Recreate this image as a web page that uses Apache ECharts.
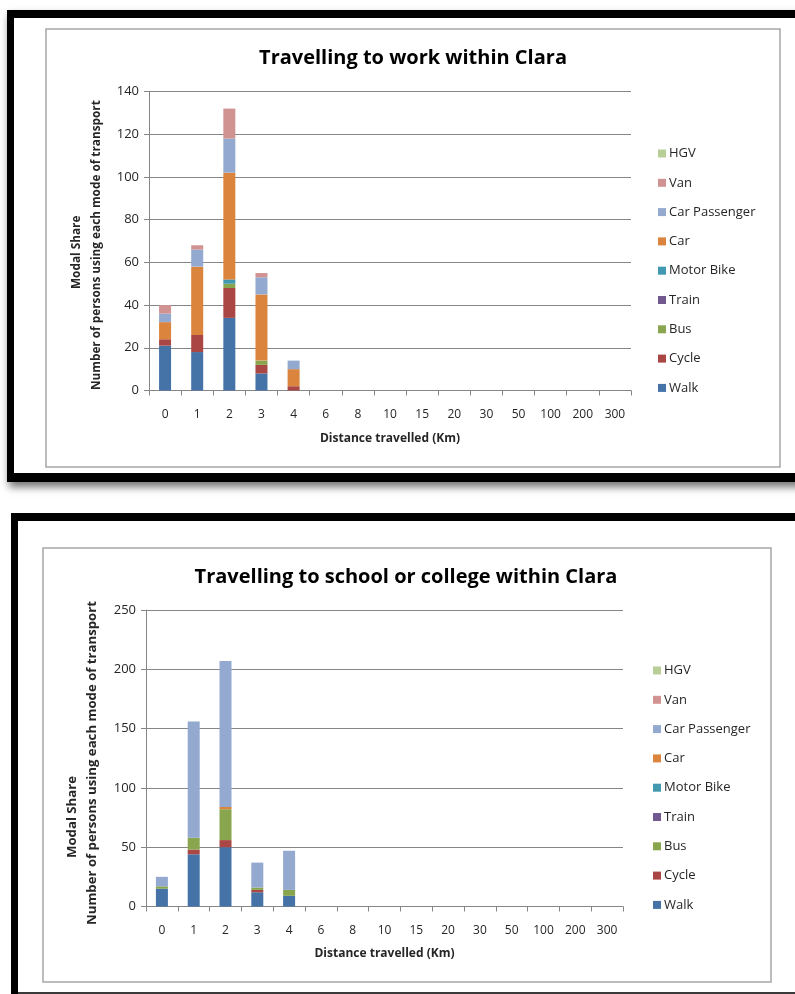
<!DOCTYPE html>
<html>
<head>
<meta charset="utf-8">
<script src="https://cdn.jsdelivr.net/npm/echarts@6/dist/echarts.min.js"></script>
<style>
  html, body { margin: 0; padding: 0; background: #fff; }
  #chart { width: 795px; height: 994px; }
</style>
</head>
<body>
<div id="chart"></div>
<script>
// Distance bands (km) shared by both charts
const distances = ['0', '1', '2', '3', '4', '6', '8', '10', '15', '20', '30', '50', '100', '200', '300'];

// Modes of transport, stacking order bottom to top
const modes = ['Walk', 'Cycle', 'Bus', 'Train', 'Motor Bike', 'Car', 'Car Passenger', 'Van', 'HGV'];
const modeColors = ['#4572A7', '#AA4643', '#89A54E', '#71588F', '#4198AF', '#DB843D', '#93A9CF', '#D19392', '#B9CD96'];

// Travelling to work within Clara (persons per distance band)
const workWalk         = [21, 18, 34, 8, 0, 0, 0, 0, 0, 0, 0, 0, 0, 0, 0];
const workCycle        = [3, 8, 14, 4, 2, 0, 0, 0, 0, 0, 0, 0, 0, 0, 0];
const workBus          = [0, 0, 2, 2, 0, 0, 0, 0, 0, 0, 0, 0, 0, 0, 0];
const workTrain        = [0, 0, 0, 0, 0, 0, 0, 0, 0, 0, 0, 0, 0, 0, 0];
const workMotorBike    = [0, 0, 2, 0, 0, 0, 0, 0, 0, 0, 0, 0, 0, 0, 0];
const workCar          = [8, 32, 50, 31, 8, 0, 0, 0, 0, 0, 0, 0, 0, 0, 0];
const workCarPassenger = [4, 8, 16, 8, 4, 0, 0, 0, 0, 0, 0, 0, 0, 0, 0];
const workVan          = [4, 2, 14, 2, 0, 0, 0, 0, 0, 0, 0, 0, 0, 0, 0];
const workHGV          = [0, 0, 0, 0, 0, 0, 0, 0, 0, 0, 0, 0, 0, 0, 0];

// Travelling to school or college within Clara
const schoolWalk         = [15, 44, 50, 12, 9, 0, 0, 0, 0, 0, 0, 0, 0, 0, 0];
const schoolCycle        = [0, 4, 6, 2, 0, 0, 0, 0, 0, 0, 0, 0, 0, 0, 0];
const schoolBus          = [2, 10, 26, 2, 5, 0, 0, 0, 0, 0, 0, 0, 0, 0, 0];
const schoolTrain        = [0, 0, 0, 0, 0, 0, 0, 0, 0, 0, 0, 0, 0, 0, 0];
const schoolMotorBike    = [0, 0, 0, 0, 0, 0, 0, 0, 0, 0, 0, 0, 0, 0, 0];
const schoolCar          = [0, 0, 2, 0, 0, 0, 0, 0, 0, 0, 0, 0, 0, 0, 0];
const schoolCarPassenger = [8, 98, 123, 21, 33, 0, 0, 0, 0, 0, 0, 0, 0, 0, 0];
const schoolVan          = [0, 0, 0, 0, 0, 0, 0, 0, 0, 0, 0, 0, 0, 0, 0];
const schoolHGV          = [0, 0, 0, 0, 0, 0, 0, 0, 0, 0, 0, 0, 0, 0, 0];

// Y axis ticks
const workTickMax = 140, workTickStep = 20;
const schoolTickMax = 250, schoolTickStep = 50;

// Y axis title lines
const yTitleTop = 'Modal Share';
const yTitleBottom = 'Number of persons using each mode of transport';

const workSeries = [workWalk, workCycle, workBus, workTrain, workMotorBike, workCar, workCarPassenger, workVan, workHGV];
const schoolSeries = [schoolWalk, schoolCycle, schoolBus, schoolTrain, schoolMotorBike, schoolCar, schoolCarPassenger, schoolVan, schoolHGV];

const FONT = '"Open Sans", "Noto Sans", sans-serif';
const TEXT = '#262626';
const AXIS = '#868686';

function xAxisFor(gridIndex, nameGap) {
  return {
    type: 'category', gridIndex, data: distances,
    name: 'Distance travelled (Km)', nameLocation: 'middle', nameGap,
    nameTextStyle: { fontFamily: FONT, fontSize: 12, fontWeight: 'bold', color: TEXT },
    axisLine: { lineStyle: { color: AXIS, width: 1 } },
    axisTick: { show: true, length: 5, lineStyle: { color: AXIS } },
    axisLabel: { fontFamily: FONT, fontSize: 12, color: TEXT, margin: 18, interval: 0 }
  };
}

function yAxisFor(gridIndex, max, step) {
  return {
    type: 'value', gridIndex, min: 0, max, interval: step,
    axisLine: { show: true, lineStyle: { color: AXIS, width: 1 } },
    axisTick: { show: true, length: 5, lineStyle: { color: AXIS } },
    axisLabel: { fontFamily: FONT, fontSize: 13, color: TEXT, margin: 10 },
    splitLine: { show: true, lineStyle: { color: AXIS, width: 1 } }
  };
}

// rotated y-axis title line, anchored at its starting (lower) end
function yTitle(text, x, y, size) {
  return {
    type: 'text', x, y, rotation: Math.PI / 2, z: 5,
    style: { text, fontFamily: FONT, fontSize: size, fontWeight: 'bold', fill: TEXT,
             align: 'left', verticalAlign: 'middle' }
  };
}

function seriesFor(values, axisIndex, stack) {
  return values.map((vals, i) => ({
    name: modes[i], type: 'bar', stack,
    xAxisIndex: axisIndex, yAxisIndex: axisIndex,
    barWidth: 12, data: vals,
    itemStyle: { color: modeColors[i] },
    emphasis: { disabled: true }
  }));
}

function legendFor(left, top) {
  return {
    orient: 'vertical', left, top,
    data: modes.slice().reverse(),
    selectedMode: false,
    icon: 'rect', itemWidth: 8, itemHeight: 8, itemGap: 16.3,
    textStyle: { fontFamily: FONT, fontSize: 13, color: TEXT, padding: [0, 0, 0, -2] }
  };
}

const chart = echarts.init(document.getElementById('chart'), null, { renderer: 'canvas' });

chart.setOption({
  backgroundColor: '#ffffff',
  animation: false,
  textStyle: { fontFamily: FONT },
  graphic: [
    // outer black frames
    { type: 'rect', z: -10, shape: { x: 7, y: 10, width: 800, height: 472 },
      style: { fill: '#000', shadowBlur: 8, shadowOffsetY: 5, shadowOffsetX: 2, shadowColor: 'rgba(0,0,0,0.55)' } },
    { type: 'rect', z: -9, shape: { x: 14, y: 18, width: 800, height: 455 }, style: { fill: '#fff' } },
    { type: 'rect', z: -10, shape: { x: 11, y: 513, width: 800, height: 490 }, style: { fill: '#000' } },
    { type: 'rect', z: -9, shape: { x: 18, y: 521, width: 800, height: 471 }, style: { fill: '#fff' } },
    { type: 'rect', z: -9, shape: { x: 18, y: 992, width: 800, height: 4 }, style: { fill: '#3a3a3a' } },
    // chart area boxes
    { type: 'rect', z: -8, shape: { x: 46, y: 29, width: 734, height: 438 },
      style: { fill: '#fff', stroke: '#a6a6a6', lineWidth: 1.5 } },
    { type: 'rect', z: -8, shape: { x: 43, y: 548, width: 728, height: 434 },
      style: { fill: '#fff', stroke: '#a6a6a6', lineWidth: 1.5 } },
    // y-axis titles
    yTitle(yTitleTop, 77, 289, 11.8),
    yTitle(yTitleBottom, 97, 390, 11.8),
    yTitle(yTitleTop, 72, 858, 13.2),
    yTitle(yTitleBottom, 92, 925, 13.2)
  ],
  title: [
    { text: 'Travelling to work within Clara', left: 408, top: 43, textAlign: 'center',
      textStyle: { fontFamily: FONT, fontSize: 20, fontWeight: 'bold', color: '#000' } },
    { text: 'Travelling to school or college within Clara', left: 401, top: 562, textAlign: 'center',
      textStyle: { fontFamily: FONT, fontSize: 20, fontWeight: 'bold', color: '#000' } }
  ],
  legend: [legendFor(653, 142), legendFor(648, 659)],
  grid: [
    { left: 149, top: 91.5, width: 482, height: 299 },
    { left: 146, top: 610, width: 477, height: 296.5 }
  ],
  xAxis: [xAxisFor(0, 42), xAxisFor(1, 41)],
  yAxis: [yAxisFor(0, workTickMax, workTickStep), yAxisFor(1, schoolTickMax, schoolTickStep)],
  series: seriesFor(workSeries, 0, 'work').concat(seriesFor(schoolSeries, 1, 'school'))
});
</script>
</body>
</html>
